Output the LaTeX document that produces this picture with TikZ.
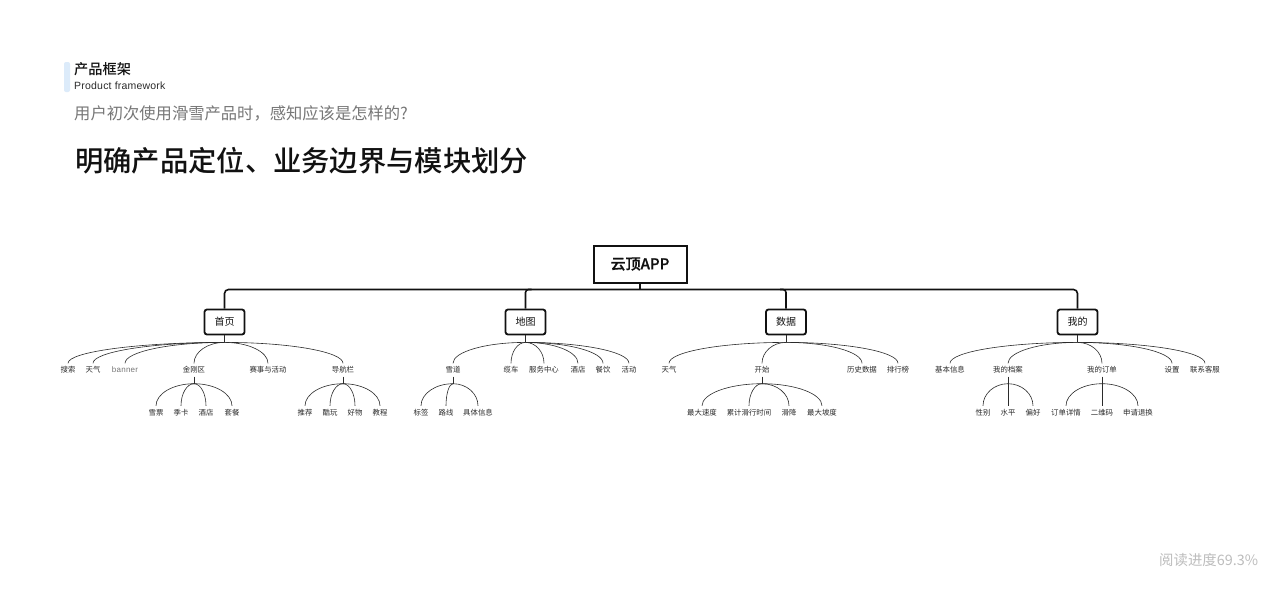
\documentclass[tikz,border=0pt]{standalone}
\usepackage{fontspec}
\setmainfont{Noto Sans CJK SC}
\newfontfamily\medf{Noto Sans CJK SC Medium}
\newfontfamily\rootf[FakeBold=0.6]{Noto Sans CJK SC Medium}
\newfontfamily\latf{Liberation Sans}
\usetikzlibrary{calc}
\definecolor{inkc}{HTML}{111111}
\definecolor{leafc}{HTML}{2B2B2B}
\definecolor{grayc}{HTML}{777777}
\definecolor{softc}{HTML}{BDBDBD}
\definecolor{tagc}{HTML}{DCEBFA}
\tikzset{
  rootbox/.style={draw=inkc,line width=2pt,minimum width=93pt,minimum height=37pt,inner sep=0pt,font=\fontsize{15}{15}\selectfont\rootf,text=inkc},
  mainbox/.style={draw=inkc,line width=1.8pt,rounded corners=2.5pt,minimum width=40pt,minimum height=25pt,inner sep=0pt,font=\fontsize{10}{10}\selectfont,text=inkc},
  leaf/.style={inner sep=0pt,minimum height=13pt,font=\fontsize{7.4}{8}\selectfont,text=leafc},
  trunk/.style={draw=inkc,line width=1.6pt},
  twig/.style={draw=leafc,line width=0.6pt},
  headtxt/.style={anchor=west,inner sep=0pt}
}
\newcommand{\twigs}[2]{%
  \draw[twig] (#1.south) -- ++(0,7) coordinate (tmp#1);
  \foreach \c in {#2}{%
    \draw[twig] (tmp#1) .. controls ($(tmp#1)!0.55!(tmp#1 -| \c.north)$) and ($(\c.north)!0.55!(tmp#1 -| \c.north)$) .. (\c.north);
  }%
}
\begin{document}
\begin{tikzpicture}[x=1pt,y=-1pt]
\useasboundingbox (0,0) rectangle (1280,592);
\fill[white] (0,0) rectangle (1280,592);
% header
\fill[tagc,rounded corners=2pt] (64,62) rectangle (70,92);
\node[headtxt,font=\fontsize{14.2}{15}\selectfont\medf,text=inkc] (h1) at (74,69) {产品框架};
\node[headtxt,font=\fontsize{10.5}{11}\latf\addfontfeature{LetterSpace=2}\selectfont,text=leafc] (h2) at (74,85.5) {Product framework};
\node[headtxt,font=\fontsize{16.3}{17}\selectfont,text=grayc] (h3) at (74,113) {用户初次使用滑雪产品时，感知应该是怎样的?};
\node[headtxt,font=\fontsize{28.3}{29}\selectfont\medf,text=inkc] (h4) at (75,161) {明确产品定位、业务边界与模块划分};
\node[headtxt,font=\fontsize{14.4}{15}\selectfont,text=softc] (prog) at (1159,560) {阅读进度69.3\%};
% top levels
\node[rootbox] (root) at (640,264) {云顶APP};
\node[mainbox] (home) at (224.5,322) {首页};
\node[mainbox] (map) at (525.5,322) {地图};
\node[mainbox] (data) at (786,322) {数据};
\node[mainbox] (mine) at (1077.5,322) {我的};
\coordinate (hub) at (640,289.5);
\draw[trunk] (root.south) -- (hub);
\draw[trunk,rounded corners=4pt] (home.north) |- (hub) -| (mine.north);
\draw[trunk,rounded corners=3pt] ($(hub -| map.north)+(6,0)$) -| (map.north);
\draw[trunk,rounded corners=3pt] ($(hub -| data.north)+(-6,0)$) -| (data.north);
% home
\node[leaf] (a1) at (68,370) {搜索};
\node[leaf] (a2) at (93,370) {天气};
\node[leaf,font=\fontsize{8}{8}\latf\addfontfeature{LetterSpace=3}\selectfont,text=grayc] (a3) at (125,370) {banner};
\node[leaf] (a4) at (194,370) {金刚区};
\node[leaf] (a5) at (268,370) {赛事与活动};
\node[leaf] (a6) at (343,370) {导航栏};
\node[leaf] (a41) at (156,412.5) {雪票};
\node[leaf] (a42) at (181,412.5) {季卡};
\node[leaf] (a43) at (206,412.5) {酒店};
\node[leaf] (a44) at (232,412.5) {套餐};
\node[leaf] (a61) at (305,412.5) {推荐};
\node[leaf] (a62) at (330,412.5) {酷玩};
\node[leaf] (a63) at (355,412.5) {好物};
\node[leaf] (a64) at (380,412.5) {教程};
\twigs{home}{a1,a2,a3,a4,a5,a6}
\twigs{a4}{a41,a42,a43,a44}
\twigs{a6}{a61,a62,a63,a64}
% map
\node[leaf] (b1) at (453,370) {雪道};
\node[leaf] (b2) at (511,370) {缆车};
\node[leaf] (b3) at (544,370) {服务中心};
\node[leaf] (b4) at (578,370) {酒店};
\node[leaf] (b5) at (603,370) {餐饮};
\node[leaf] (b6) at (629,370) {活动};
\node[leaf] (b11) at (421,412.5) {标签};
\node[leaf] (b12) at (446,412.5) {路线};
\node[leaf] (b13) at (478,412.5) {具体信息};
\twigs{map}{b1,b2,b3,b4,b5,b6}
\twigs{b1}{b11,b12,b13}
% data
\node[leaf] (c1) at (669,370) {天气};
\node[leaf] (c2) at (762,370) {开始};
\node[leaf] (c3) at (862,370) {历史数据};
\node[leaf] (c4) at (898,370) {排行榜};
\node[leaf] (c21) at (702,412.5) {最大速度};
\node[leaf] (c22) at (749,412.5) {累计滑行时间};
\node[leaf] (c23) at (789,412.5) {滑降};
\node[leaf] (c24) at (822,412.5) {最大坡度};
\twigs{data}{c1,c2,c3,c4}
\twigs{c2}{c21,c22,c23,c24}
% mine
\node[leaf] (d1) at (950,370) {基本信息};
\node[leaf] (d2) at (1008,370) {我的档案};
\node[leaf] (d3) at (1102,370) {我的订单};
\node[leaf] (d4) at (1172,370) {设置};
\node[leaf] (d5) at (1205,370) {联系客服};
\node[leaf] (d21) at (983,412.5) {性别};
\node[leaf] (d22) at (1008,412.5) {水平};
\node[leaf] (d23) at (1033,412.5) {偏好};
\node[leaf] (d31) at (1066,412.5) {订单详情};
\node[leaf] (d32) at (1102,412.5) {二维码};
\node[leaf] (d33) at (1138,412.5) {申请退换};
\twigs{mine}{d1,d2,d3,d4,d5}
\twigs{d2}{d21,d22,d23}
\twigs{d3}{d31,d32,d33}
\end{tikzpicture}
\end{document}
